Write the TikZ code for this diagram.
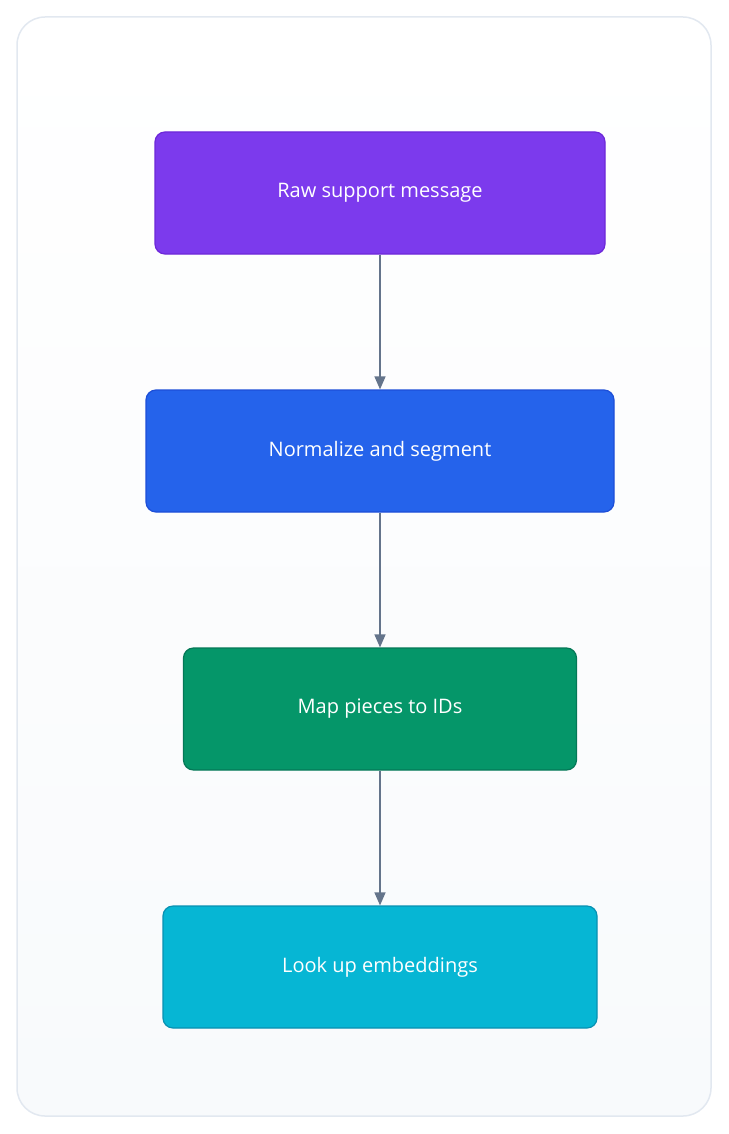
\documentclass[tikz,border=0pt]{standalone}
\usepackage{fontspec}
\setmainfont{Open Sans}
\usetikzlibrary{arrows.meta}
\definecolor{pborder}{HTML}{E2E8F0}
\definecolor{ptop}{HTML}{FFFFFF}
\definecolor{pbot}{HTML}{F8FAFC}
\definecolor{c1}{HTML}{7C3AED}\definecolor{b1}{HTML}{6D28D9}
\definecolor{c2}{HTML}{2563EB}\definecolor{b2}{HTML}{1D4ED8}
\definecolor{c3}{HTML}{059669}\definecolor{b3}{HTML}{047857}
\definecolor{c4}{HTML}{06B6D4}\definecolor{b4}{HTML}{0891B2}
\definecolor{arr}{HTML}{64748B}
\tikzset{
  stage/.style={rectangle, rounded corners=10pt, line width=1.2pt, minimum height=122pt, text=white, font=\fontsize{20}{24}\selectfont},
  flow/.style={draw=arr, line width=1.4pt, -{Triangle[length=13pt,width=11pt]}}
}
\begin{document}
\begin{tikzpicture}[x=1pt,y=-1pt]
\useasboundingbox (0,0) rectangle (728,1134);
\shade[top color=ptop, bottom color=pbot, rounded corners=28pt] (17,17) rectangle (711,1116);
\draw[pborder, line width=1.5pt, rounded corners=28pt] (17,17) rectangle (711,1116);
\node[stage, fill=c1, draw=b1, minimum width=450pt] (a) at (380,193) {Raw support message};
\node[stage, fill=c2, draw=b2, minimum width=468pt] (b) at (380,451) {Normalize and segment};
\node[stage, fill=c3, draw=b3, minimum width=393pt] (c) at (380,709) {Map pieces to IDs};
\node[stage, fill=c4, draw=b4, minimum width=434pt] (d) at (380,967) {Look up embeddings};
\draw[flow] (a) -- (b);
\draw[flow] (b) -- (c);
\draw[flow] (c) -- (d);
\end{tikzpicture}
\end{document}
